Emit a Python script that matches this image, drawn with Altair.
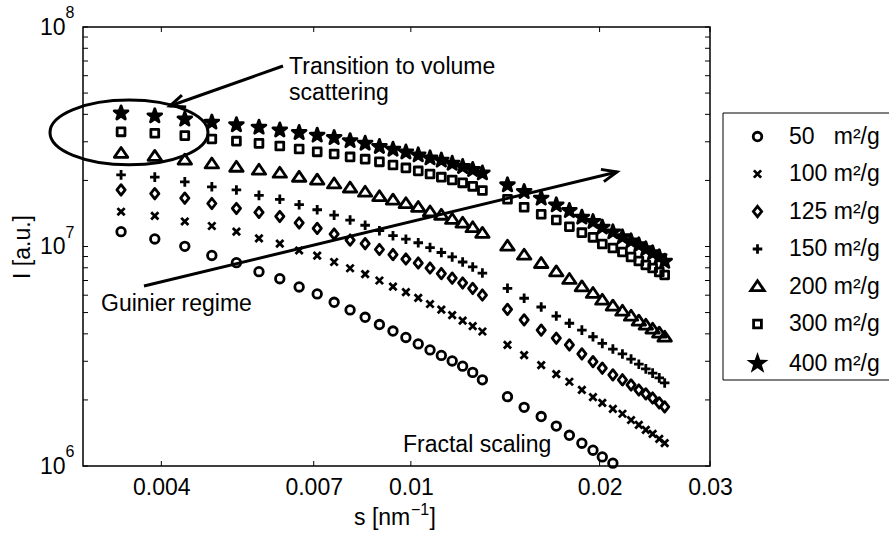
import altair as alt
import pandas as pd

FONT = "Liberation Sans"

# ---------------- data ----------------
s_low = [0.00345, 0.003905, 0.00436, 0.004815, 0.00527, 0.005725, 0.00618, 0.006635,
         0.00709, 0.007545, 0.008, 0.008455, 0.00891, 0.009365, 0.00982, 0.010275,
         0.01073, 0.011185, 0.01164, 0.012095, 0.01255, 0.013005]
s_high = [0.01426, 0.01516, 0.01614, 0.01706, 0.0179, 0.01874, 0.01952, 0.0202,
          0.0210, 0.02175, 0.02245, 0.0231, 0.0237, 0.0243, 0.0249, 0.0254]

series_names = ["50\u00a0\u00a0 m²/g", "100 m²/g", "125 m²/g", "150 m²/g",
                "200 m²/g", "300 m²/g", "400 m²/g"]

I_50_low = [1.168e7, 1.082e7, 1.002e7, 9.10e6, 8.44e6, 7.68e6, 7.13e6, 6.54e6, 6.08e6, 5.57e6, 5.14e6,
            4.76e6, 4.41e6, 4.12e6, 3.85e6, 3.60e6, 3.38e6, 3.19e6, 3.01e6, 2.85e6, 2.67e6, 2.47e6]
I_50_high = [2.07e6, 1.85e6, 1.68e6, 1.52e6, 1.38e6, 1.27e6, 1.18e6, 1.10e6, 1.03e6]

I_100_low = [1.44e7, 1.38e7, 1.30e7, 1.24e7, 1.17e7, 1.09e7, 1.03e7, 9.59e6, 9.08e6, 8.50e6, 7.96e6,
             7.49e6, 7.00e6, 6.57e6, 6.20e6, 5.83e6, 5.47e6, 5.16e6, 4.87e6, 4.60e6, 4.34e6, 4.10e6]
I_100_high = [3.56e6, 3.20e6, 2.88e6, 2.62e6, 2.42e6, 2.22e6, 2.06e6, 1.94e6, 1.82e6, 1.73e6, 1.62e6,
              1.54e6, 1.46e6, 1.40e6, 1.33e6, 1.27e6]

I_125_low = [1.81e7, 1.74e7, 1.66e7, 1.57e7, 1.49e7, 1.43e7, 1.37e7, 1.28e7, 1.21e7, 1.14e7, 1.07e7,
             1.03e7, 9.69e6, 9.19e6, 8.77e6, 8.41e6, 7.98e6, 7.53e6, 7.18e6, 6.82e6, 6.44e6, 6.01e6]
I_125_high = [5.17e6, 4.63e6, 4.16e6, 3.82e6, 3.56e6, 3.24e6, 2.99e6, 2.79e6, 2.60e6, 2.47e6, 2.34e6,
              2.22e6, 2.13e6, 2.04e6, 1.94e6, 1.86e6]

I_150_low = [2.12e7, 2.07e7, 1.97e7, 1.87e7, 1.81e7, 1.71e7, 1.64e7, 1.55e7, 1.47e7, 1.39e7, 1.32e7,
             1.25e7, 1.18e7, 1.12e7, 1.08e7, 1.04e7, 9.89e6, 9.39e6, 8.96e6, 8.50e6, 8.07e6, 7.57e6]
I_150_high = [6.45e6, 5.81e6, 5.30e6, 4.82e6, 4.47e6, 4.16e6, 3.88e6, 3.62e6, 3.41e6, 3.24e6, 3.07e6,
              2.91e6, 2.77e6, 2.65e6, 2.52e6, 2.39e6]

I_200_low = [2.66e7, 2.58e7, 2.48e7, 2.38e7, 2.30e7, 2.23e7, 2.16e7, 2.07e7, 2.01e7, 1.93e7, 1.85e7,
             1.77e7, 1.69e7, 1.63e7, 1.57e7, 1.51e7, 1.44e7, 1.39e7, 1.33e7, 1.28e7, 1.22e7, 1.15e7]
I_200_high = [1.005e7, 9.15e6, 8.38e6, 7.68e6, 7.09e6, 6.56e6, 6.12e6, 5.70e6, 5.36e6, 5.08e6, 4.82e6,
              4.58e6, 4.39e6, 4.21e6, 4.04e6, 3.87e6]

I_300_low = [3.33e7, 3.28e7, 3.20e7, 3.09e7, 3.02e7, 2.95e7, 2.87e7, 2.78e7, 2.70e7, 2.64e7, 2.56e7,
             2.50e7, 2.43e7, 2.35e7, 2.28e7, 2.21e7, 2.14e7, 2.07e7, 2.01e7, 1.95e7, 1.88e7, 1.80e7]
I_300_high = [1.641e7, 1.509e7, 1.402e7, 1.320e7, 1.231e7, 1.156e7, 1.101e7, 1.026e7, 9.84e6, 9.44e6,
              8.96e6, 8.59e6, 8.24e6, 7.98e6, 7.65e6, 7.42e6]

I_400_low = [4.05e7, 3.93e7, 3.80e7, 3.68e7, 3.58e7, 3.49e7, 3.39e7, 3.30e7, 3.21e7, 3.13e7, 3.03e7,
             2.95e7, 2.85e7, 2.77e7, 2.69e7, 2.61e7, 2.53e7, 2.47e7, 2.39e7, 2.31e7, 2.24e7, 2.16e7]
I_400_high = [1.906e7, 1.777e7, 1.658e7, 1.545e7, 1.456e7, 1.358e7, 1.297e7, 1.223e7, 1.164e7, 1.105e7,
              1.059e7, 1.016e7, 9.74e6, 9.34e6, 8.96e6, 8.55e6]

x_ticks = [0.004, 0.007, 0.01, 0.02, 0.03]
y_major = [1e6, 1e7, 1e8]
y_exponents = ["6", "7", "8"]
y_minor = [2e6, 3e6, 4e6, 5e6, 6e6, 7e6, 8e6, 9e6, 2e7, 3e7, 4e7, 5e7, 6e7, 7e7, 8e7, 9e7]

ann_text = ["Transition to volume", "scattering", "Guinier regime", "Fractal scaling"]
ann_s = [0.006393, 0.006393, 0.003205, 0.009714]
ann_I = [6.107e7, 4.65e7, 5.085e6, 1.158e6]

arrow_s1 = [0.006253, 0.003753]
arrow_I1 = [6.643e7, 6.607e6]
arrow_s2 = [0.004128, 0.02132]
arrow_I2 = [4.366e7, 2.185e7]
arrow_angle = [160.5, 346.45]

ellipse_s = [0.003552]
ellipse_I = [3.307e7]

# ---------------- build tables ----------------
lows = [I_50_low, I_100_low, I_125_low, I_150_low, I_200_low, I_300_low, I_400_low]
highs = [I_50_high, I_100_high, I_125_high, I_150_high, I_200_high, I_300_high, I_400_high]
rows = []
for name, lo, hi in zip(series_names, lows, highs):
    for s, v in zip(s_low + s_high, lo + hi):
        rows.append({"s": s, "I": v, "series": name})
df = pd.DataFrame(rows)

W, H = 627, 439

xscale = alt.Scale(type="log", domain=[0.003, 0.03], nice=False)
yscale = alt.Scale(type="log", domain=[1e6, 1e8], nice=False)

star_path = (
    "M0,-1L0.235,-0.324L0.951,-0.309L0.38,0.124L0.588,0.809L0,0.4L-0.588,0.809L-0.38,0.124L-0.951,-0.309L-0.235,-0.324Z"
    "M0,-0.6L0.141,-0.194L0.571,-0.185L0.228,0.074L0.353,0.485L0,0.24L-0.353,0.485L-0.228,0.074L-0.571,-0.185L-0.141,-0.194Z"
    "M0,-0.25L0.059,-0.081L0.238,-0.077L0.095,0.031L0.147,0.202L0,0.1L-0.147,0.202L-0.095,0.031L-0.238,-0.077L-0.059,-0.081Z"
)
shape_paths = [
    "M0.59,0C0.59,0.326,0.326,0.59,0,0.59C-0.326,0.59,-0.59,0.326,-0.59,0C-0.59,-0.326,-0.326,-0.59,0,-0.59C0.326,-0.59,0.59,-0.326,0.59,0Z",
    "M-0.5,-0.5L0.5,0.5M-0.5,0.5L0.5,-0.5",
    "M0,-0.72L0.57,0L0,0.72L-0.57,0Z",
    "M-0.66,0L0.66,0M0,-0.66L0,0.66",
    "M0,-0.8L0.93,0.57L-0.93,0.57Z",
    "M-0.54,-0.54L0.54,-0.54L0.54,0.54L-0.54,0.54Z",
    star_path,
]

MSIZE = 210
MSTROKE = 2.8

leg = alt.Legend(title=None, orient="none", legendX=663, legendY=98, padding=0,
                 labelOffset=20, rowPadding=13.5, symbolSize=MSIZE, symbolStrokeWidth=MSTROKE,
                 symbolStrokeColor="black", symbolFillColor="transparent", symbolOpacity=1,
                 labelFont=FONT, labelFontSize=23, labelColor="black", labelLimit=400)

x_axis = alt.Axis(values=x_ticks, labelExpr="format(datum.value, '~g')", ticks=False,
                  domain=False, grid=False, labelFlush=False, labelOverlap=False,
                  labelFontSize=23, labelPadding=10, labelColor="black", labelFont=FONT,
                  title=None)
y_axis = alt.Axis(values=y_major, labelExpr="'10'",
                  ticks=False, domain=False, grid=False, labelFlush=False, labelOverlap=False,
                  labelFontSize=23, labelPadding=18, labelColor="black", labelFont=FONT,
                  title="I [a.u.]", titleFontSize=23, titleFontWeight="normal",
                  titlePadding=5, titleColor="black", titleFont=FONT)


def X(field):
    return alt.X(field, scale=xscale, axis=x_axis)


def Y(field):
    return alt.Y(field, scale=yscale, axis=y_axis)


one = alt.Data(values=[{}])

box = alt.Chart(one).mark_rect(fill="white", stroke="black", strokeWidth=1).encode(
    x=alt.value(640), x2=alt.value(840), y=alt.value(86), y2=alt.value(353))

points = alt.Chart(df).mark_point(filled=False, size=MSIZE, strokeWidth=MSTROKE, strokeJoin="round",
                                  opacity=1, stroke="black").encode(
    x=X("s:Q"),
    y=Y("I:Q"),
    shape=alt.Shape("series:N", scale=alt.Scale(domain=series_names, range=shape_paths), legend=leg),
)

ytick_df = pd.DataFrame({"v": y_major + y_minor})
xtick_df = pd.DataFrame({"v": x_ticks})
TL = 5
yt_left = alt.Chart(ytick_df).mark_rule(color="black", strokeWidth=1).encode(
    y=Y("v:Q"), x=alt.value(0), x2=alt.value(TL))
yt_right = alt.Chart(ytick_df).mark_rule(color="black", strokeWidth=1).encode(
    y=Y("v:Q"), x=alt.value(W - TL), x2=alt.value(W))
xt_bottom = alt.Chart(xtick_df).mark_rule(color="black", strokeWidth=1).encode(
    x=X("v:Q"), y=alt.value(H - TL), y2=alt.value(H))
xt_top = alt.Chart(xtick_df).mark_rule(color="black", strokeWidth=1).encode(
    x=X("v:Q"), y=alt.value(0), y2=alt.value(TL))

# exponents of the y tick labels (superscripts)
exp_df = pd.DataFrame({"v": y_major, "e": y_exponents})
y_exp = alt.Chart(exp_df).mark_text(align="left", baseline="alphabetic", fontSize=16, dy=-9,
                                    font=FONT, color="black").encode(
    y=Y("v:Q"), x=alt.value(-17.5), text="e:N")

# x axis title  s [nm^-1]
xt1 = alt.Chart(one).mark_text(text="s [nm", align="left", baseline="alphabetic", fontSize=23,
                               font=FONT, color="black").encode(x=alt.value(271), y=alt.value(498))
xt2 = alt.Chart(one).mark_text(text="\u22121", align="left", baseline="alphabetic", fontSize=16,
                               font=FONT, color="black").encode(x=alt.value(328), y=alt.value(487.5))
xt3 = alt.Chart(one).mark_text(text="]", align="left", baseline="alphabetic", fontSize=23,
                               font=FONT, color="black").encode(x=alt.value(346.5), y=alt.value(498))

ann_df = pd.DataFrame({"s": ann_s, "I": ann_I, "t": ann_text})
texts = alt.Chart(ann_df).mark_text(align="left", baseline="alphabetic", fontSize=23, font=FONT,
                                    color="black").encode(
    x=X("s:Q"), y=Y("I:Q"), text="t:N")

arrow_df = pd.DataFrame({"s1": arrow_s1, "I1": arrow_I1, "s2": arrow_s2, "I2": arrow_I2,
                         "ang": arrow_angle})
arrow_lines = alt.Chart(arrow_df).mark_rule(color="black", strokeWidth=3).encode(
    x=X("s1:Q"), x2="s2:Q", y=Y("I1:Q"), y2="I2:Q")
arrow_heads = alt.Chart(arrow_df).mark_point(shape="M-1,-0.42L0,0L-1,0.42", size=900, filled=False,
                                             stroke="black", strokeWidth=3, opacity=1,
                                             strokeJoin="miter").encode(
    x=X("s2:Q"), y=Y("I2:Q"), angle=alt.Angle("ang:Q", scale=None))

ell_df = pd.DataFrame({"s": ellipse_s, "I": ellipse_I})
ellipse = alt.Chart(ell_df).mark_point(
    shape="M1,0C1,0.2264,0.5523,0.41,0,0.41C-0.5523,0.41,-1,0.2264,-1,0C-1,-0.2264,-0.5523,-0.41,0,-0.41C0.5523,-0.41,1,-0.2264,1,0Z",
    size=24964, filled=False, stroke="black", strokeWidth=3, opacity=1).encode(
    x=X("s:Q"), y=Y("I:Q"))

chart = alt.layer(
    box, yt_left, yt_right, xt_bottom, xt_top, points, ellipse, arrow_lines, arrow_heads, texts,
    y_exp, xt1, xt2, xt3
).properties(
    width=W, height=H,
    padding={"left": 83, "top": 27, "right": 179, "bottom": 68},
    autosize=alt.AutoSizeParams(type="none"),
    background="white",
).configure(font=FONT).configure_axis(grid=False).configure_view(stroke="black", strokeWidth=1.5)

chart.save("out.html", embed_options={"renderer": "svg", "actions": False})
